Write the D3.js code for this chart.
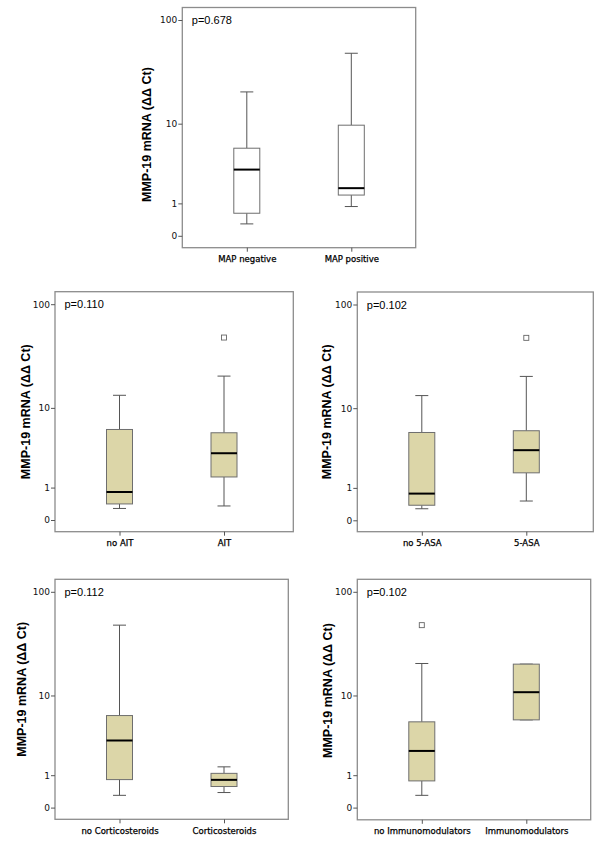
<!DOCTYPE html>
<html>
<head>
<meta charset="utf-8">
<script src="https://cdn.jsdelivr.net/npm/d3@7"></script>
<style>
  html, body { margin: 0; padding: 0; background: #fff; }
  svg { display: block; }
</style>
</head>
<body>
<svg id="chart" width="600" height="849"></svg>
<script>
// ---------------- DATA ----------------
const panelCategories = [
  ["MAP negative", "MAP positive"],
  ["no AIT", "AIT"],
  ["no 5-ASA", "5-ASA"],
  ["no Corticosteroids", "Corticosteroids"],
  ["no Immunomodulators", "Immunomodulators"]
];
const pValues = ["p=0.678", "p=0.110", "p=0.102", "p=0.112", "p=0.102"];
const whiskerLow  = [[0.29, 0.87], [0.28, 0.35], [0.28, 0.51], [0.30, 0.38], [0.30, 5.53]];
const q1          = [[0.62, 1.39], [0.41, 1.51], [0.38, 1.76], [0.82, 0.57], [0.77, 5.53]];
const median      = [[3.12, 1.77], [0.82, 3.17], [0.77, 3.48], [3.20, 0.81], [2.36, 10.8]];
const q3          = [[5.51, 9.65], [5.93, 5.46], [5.54, 5.79], [6.16, 1.08], [5.26, 20.5]];
const whiskerHigh = [[20.7, 48.6], [13.4, 20.7], [13.4, 20.7], [48.5, 1.39], [20.8, 20.5]];
const outliers    = [[[], []], [[], [48.5]], [[], [48.5]], [[], []], [[48.5], []]];
const yTickValues = [0, 1, 10, 100];
const yTitle = "MMP-19 mRNA (\u0394\u0394 Ct)";

// ---------------- LAYOUT / STYLE ----------------
const TAN = "#dcd6a8";
const layout = [
  { x: 182.3, y: 7.5,   w: 233.4, h: 240.2, fill: "#ffffff", tdx: -35, tdy: 7 },
  { x: 55,    y: 291.7, w: 238.3, h: 240,   fill: TAN,       tdx: -29, tdy: 0 },
  { x: 357.3, y: 292.0, w: 236,   h: 239.7, fill: TAN,       tdx: -30, tdy: 0 },
  { x: 55,    y: 579.3, w: 233.3, h: 240,   fill: TAN,       tdx: -33, tdy: -10 },
  { x: 357.3, y: 579.3, w: 233.4, h: 240.5, fill: TAN,       tdx: -29, tdy: -9 }
];
const boxW = 26, capW = 13;

const svg = d3.select("#chart");

layout.forEach((L, i) => {
  const g = svg.append("g").attr("transform", `translate(${L.x},${L.y})`);
  const cats = panelCategories[i];

  const x = d3.scalePoint().domain(cats).range([64.5, 169]);
  const y = d3.scaleSymlog().constant(1).domain([0, 100]).range([228.3, 12.5]);

  // Frame
  g.append("rect")
    .attr("x", 0).attr("y", 0).attr("width", L.w).attr("height", L.h)
    .attr("fill", "#fff").attr("stroke", "#8c8c8c").attr("stroke-width", 1.3);

  // Y axis
  const yAxis = d3.axisLeft(y).tickValues(yTickValues).tickFormat(d3.format("d"))
    .tickSize(4).tickPadding(1);
  const ya = g.append("g").call(yAxis);
  ya.select(".domain").remove();
  ya.selectAll(".tick line").attr("stroke", "#555");
  ya.selectAll(".tick text")
    .attr("font-family", "DejaVu Sans, sans-serif").attr("font-size", 9)
    .attr("fill", "#111");

  // X axis
  const xAxis = d3.axisBottom(x).tickSize(4).tickPadding(3);
  const xa = g.append("g").attr("transform", `translate(0,${L.h})`).call(xAxis);
  xa.select(".domain").remove();
  xa.selectAll(".tick line").attr("stroke", "#555");
  xa.selectAll(".tick text")
    .attr("font-family", "DejaVu Sans, sans-serif").attr("font-size", 8.5)
    .attr("fill", "#000").attr("stroke", "#000").attr("stroke-width", 0.25)
    .attr("dy", "0.85em");

  // Y title
  g.append("text")
    .attr("transform", `translate(${L.tdx},${L.h / 2 + L.tdy}) rotate(-90)`)
    .attr("text-anchor", "middle").attr("dominant-baseline", "central")
    .attr("font-family", "Liberation Sans, Arial, sans-serif")
    .attr("font-weight", "bold").attr("font-size", 12.5).attr("fill", "#000")
    .text(yTitle);

  // p value
  g.append("text")
    .attr("x", 9.5).attr("y", 16.8)
    .attr("font-family", "Liberation Sans, Arial, sans-serif")
    .attr("font-size", 11).attr("fill", "#000")
    .text(pValues[i]);

  // Boxes
  cats.forEach((c, j) => {
    const cx = x(c);
    const wl = whiskerLow[i][j], wh = whiskerHigh[i][j];
    const a = q1[i][j], b = q3[i][j], m = median[i][j];
    const bx = g.append("g");
    // whiskers
    bx.append("line").attr("x1", cx).attr("x2", cx).attr("y1", y(b)).attr("y2", y(wh))
      .attr("stroke", "#555").attr("stroke-width", 1);
    bx.append("line").attr("x1", cx).attr("x2", cx).attr("y1", y(a)).attr("y2", y(wl))
      .attr("stroke", "#555").attr("stroke-width", 1);
    bx.append("line").attr("x1", cx - capW / 2).attr("x2", cx + capW / 2)
      .attr("y1", y(wh)).attr("y2", y(wh)).attr("stroke", "#555").attr("stroke-width", 1);
    bx.append("line").attr("x1", cx - capW / 2).attr("x2", cx + capW / 2)
      .attr("y1", y(wl)).attr("y2", y(wl)).attr("stroke", "#555").attr("stroke-width", 1);
    // box
    bx.append("rect")
      .attr("x", cx - boxW / 2).attr("y", y(b))
      .attr("width", boxW).attr("height", y(a) - y(b))
      .attr("fill", L.fill).attr("stroke", "#6e6e6e").attr("stroke-width", 1);
    // median
    bx.append("line").attr("x1", cx - boxW / 2).attr("x2", cx + boxW / 2)
      .attr("y1", y(m)).attr("y2", y(m)).attr("stroke", "#000").attr("stroke-width", 2);
    // outliers
    bx.selectAll("rect.out").data(outliers[i][j]).enter().append("rect")
      .attr("class", "out")
      .attr("x", cx - 2.5).attr("y", d => y(d) - 2.5)
      .attr("width", 5).attr("height", 5)
      .attr("fill", "#fff").attr("stroke", "#666").attr("stroke-width", 0.9);
  });
});
</script>
</body>
</html>
